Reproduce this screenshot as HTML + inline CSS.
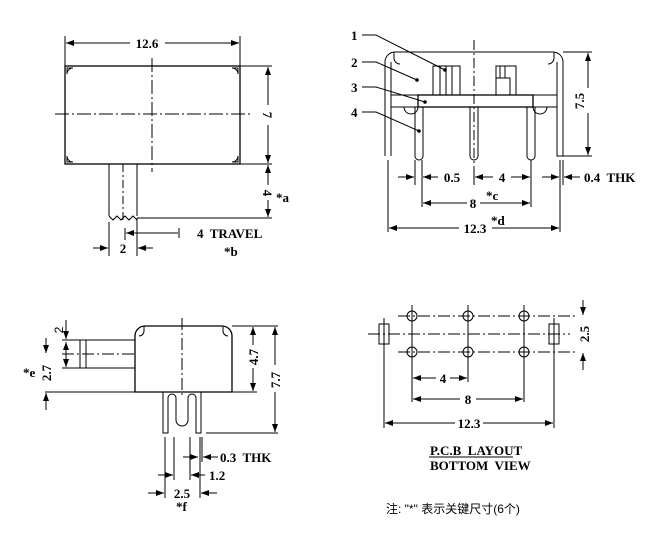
<!DOCTYPE html>
<html><head><meta charset="utf-8"><style>
html,body{margin:0;padding:0;background:#fff;}
svg{display:block;}
text{font-family:"Liberation Serif",serif;font-weight:bold;font-size:13px;fill:#000;white-space:pre;}
.s{font-family:"Liberation Sans",sans-serif;font-weight:normal;font-size:12px;}
</style></head><body>
<svg width="657" height="539" viewBox="0 0 657 539" xmlns="http://www.w3.org/2000/svg" xml:space="preserve">
<defs>
<marker id="a" markerWidth="8" markerHeight="6" refX="8" refY="3" orient="auto-start-reverse" markerUnits="userSpaceOnUse"><path d="M0,0 L8,3 L0,6 z" fill="#000"/></marker>
</defs>
<g stroke="#000" stroke-width="1" fill="none">
<line x1="65" y1="36" x2="65" y2="66"/><line x1="240" y1="36" x2="240" y2="66"/>
<line x1="66" y1="43" x2="130" y2="43" marker-start="url(#a)"/><line x1="165" y1="43" x2="239" y2="43" marker-end="url(#a)"/>
<rect x="65" y="66" width="175" height="98" stroke-width="1.3"/>
<line x1="240" y1="66" x2="272" y2="66"/><line x1="240" y1="164" x2="272" y2="164"/>
<path d="M67,68 h6 a6,6 0 0 0 -6,6z M238,68 h-6 a6,6 0 0 1 6,6z M67,162 h6 a6,6 0 0 1 -6,-6z M238,162 h-6 a6,6 0 0 0 6,-6z"/>
<line x1="55" y1="114" x2="250" y2="114" stroke-dasharray="14,3,2,3"/>
<line x1="152" y1="58" x2="152" y2="172" stroke-dasharray="14,3,2,3"/>
<line x1="268" y1="67" x2="268" y2="105" marker-start="url(#a)"/><line x1="268" y1="125" x2="268" y2="163" marker-end="url(#a)"/>
<line x1="268" y1="165" x2="268" y2="185" marker-start="url(#a)"/><line x1="268" y1="200" x2="268" y2="217" marker-end="url(#a)"/>
<line x1="109" y1="164" x2="109" y2="216"/><line x1="137" y1="164" x2="137" y2="216"/>
<line x1="123" y1="164" x2="123" y2="222" stroke-dasharray="8,3,2,3"/>
<path d="M109,216 l4,4 l4,-4 l4,4 l4,-4 l4,4 l4,-4 l4,4"/>
<line x1="137" y1="218" x2="272" y2="218"/>
<line x1="137" y1="218" x2="137" y2="256"/><line x1="109" y1="222" x2="109" y2="256"/>
<line x1="125" y1="228" x2="125" y2="240"/>
<line x1="126" y1="233" x2="178" y2="233" marker-start="url(#a)"/><line x1="179" y1="228" x2="179" y2="238"/>
<line x1="93" y1="248" x2="108" y2="248" marker-end="url(#a)"/><line x1="153" y1="248" x2="138" y2="248" marker-end="url(#a)"/>
<path d="M362,35 h14 L445,70"/><path d="M362,62 h14 L417,80"/><path d="M362,87 h14 L425,102"/><path d="M362,112 h14 L419,131"/>
<path d="M385,156 V62 a10,10 0 0 1 10,-10 H553 a10,10 0 0 1 10,10 V156 h-6 V62 M391,156 V62"/>
<path d="M394,52 v6 a6,6 0 0 0 6,6 M554,52 v6 a6,6 0 0 1 -6,6"/>
<line x1="563" y1="52" x2="592" y2="52"/><line x1="563" y1="156" x2="592" y2="156"/>
<line x1="391" y1="95" x2="557" y2="95"/><line x1="391" y1="107" x2="557" y2="107"/>
<rect x="418" y="95" width="115" height="12" stroke-width="1.3"/>
<path d="M404,107 a7,7 0 0 0 14,0 M533,107 a7,7 0 0 0 14,0"/>
<rect x="433" y="66" width="27" height="29"/><line x1="440" y1="66" x2="440" y2="95"/><line x1="446" y1="66" x2="446" y2="95"/><line x1="452" y1="66" x2="452" y2="95"/>
<rect x="496" y="66" width="20" height="29"/><rect x="496" y="78" width="14" height="17"/><line x1="500" y1="66" x2="500" y2="78"/><line x1="505" y1="66" x2="505" y2="78"/>
<path d="M415,107 V156 a4,4 0 0 0 8,0 V107 M470,107 V156 a4,4 0 0 0 8,0 V107 M527,107 V156 a4,4 0 0 0 8,0 V107"/>
<line x1="474" y1="40" x2="474" y2="170" stroke-dasharray="10,3,2,3"/>
<line x1="588" y1="53" x2="588" y2="88" marker-start="url(#a)"/><line x1="588" y1="113" x2="588" y2="155" marker-end="url(#a)"/>
<line x1="388" y1="160" x2="388" y2="232"/><line x1="560" y1="160" x2="560" y2="232"/><line x1="563" y1="160" x2="563" y2="185"/>
<line x1="415" y1="160" x2="415" y2="185"/><line x1="422" y1="160" x2="422" y2="207"/><line x1="531" y1="160" x2="531" y2="207"/><line x1="474" y1="170" x2="474" y2="185"/>
<line x1="398" y1="177" x2="414" y2="177" marker-end="url(#a)"/><line x1="438" y1="177" x2="423" y2="177" marker-end="url(#a)"/>
<line x1="475" y1="177" x2="493" y2="177" marker-start="url(#a)"/><line x1="511" y1="177" x2="530" y2="177" marker-end="url(#a)"/>
<line x1="542" y1="177" x2="559" y2="177" marker-end="url(#a)"/><line x1="580" y1="177" x2="564" y2="177" marker-end="url(#a)"/>
<line x1="423" y1="203" x2="467" y2="203" marker-start="url(#a)"/><line x1="480" y1="203" x2="530" y2="203" marker-end="url(#a)"/>
<line x1="389" y1="228" x2="459" y2="228" marker-start="url(#a)"/><line x1="492" y1="228" x2="559" y2="228" marker-end="url(#a)"/>
<path d="M135,392 V336 a10,10 0 0 1 10,-10 H222 a10,10 0 0 1 10,10 V392 Z" stroke-width="1.3"/>
<path d="M144,326 v5 a5,5 0 0 1 -5,5 M223,326 v5 a5,5 0 0 0 5,5"/>
<line x1="232" y1="326" x2="278" y2="326"/><line x1="232" y1="392" x2="257" y2="392"/><line x1="206" y1="433" x2="278" y2="433"/>
<rect x="80" y="340" width="55" height="28"/><line x1="86" y1="340" x2="86" y2="368"/>
<line x1="62" y1="354" x2="135" y2="354" stroke-dasharray="12,3,2,3"/>
<line x1="182" y1="318" x2="182" y2="395" stroke-dasharray="12,3,2,3"/>
<line x1="45" y1="392" x2="135" y2="392"/><line x1="62" y1="340" x2="80" y2="340"/><line x1="62" y1="368" x2="80" y2="368"/>
<path d="M163,392 V433 h5 V398 a4,4 0 0 1 8,0 V420 a6,6 0 0 0 12,0 V398 a4,4 0 0 1 8,0 V433 h5 V392"/>
<line x1="253" y1="327" x2="253" y2="345" marker-start="url(#a)"/><line x1="253" y1="368" x2="253" y2="391" marker-end="url(#a)"/>
<line x1="275" y1="327" x2="275" y2="365" marker-start="url(#a)"/><line x1="275" y1="392" x2="275" y2="432" marker-end="url(#a)"/>
<line x1="66" y1="320" x2="66" y2="339" marker-end="url(#a)"/><line x1="66" y1="342" x2="66" y2="367" marker-start="url(#a)" marker-end="url(#a)"/>
<line x1="46" y1="338" x2="46" y2="353" marker-end="url(#a)"/><line x1="46" y1="410" x2="46" y2="393" marker-end="url(#a)"/>
<line x1="165" y1="437" x2="165" y2="498"/><line x1="174" y1="437" x2="174" y2="480"/><line x1="190" y1="437" x2="190" y2="480"/><line x1="200" y1="437" x2="200" y2="498"/><line x1="202" y1="437" x2="202" y2="462"/>
<line x1="183" y1="457" x2="198" y2="457" marker-end="url(#a)"/><line x1="218" y1="457" x2="203" y2="457" marker-end="url(#a)"/>
<line x1="158" y1="475" x2="173" y2="475" marker-end="url(#a)"/><line x1="205" y1="475" x2="191" y2="475" marker-end="url(#a)"/>
<line x1="148" y1="493" x2="164" y2="493" marker-end="url(#a)"/><line x1="217" y1="493" x2="201" y2="493" marker-end="url(#a)"/>
<line x1="398" y1="316" x2="575" y2="316" stroke-dasharray="12,3,2,3"/>
<line x1="368" y1="334" x2="570" y2="334" stroke-dasharray="12,3,2,3"/>
<line x1="398" y1="352" x2="575" y2="352" stroke-dasharray="12,3,2,3"/>
<circle cx="412" cy="316" r="5"/><circle cx="468" cy="316" r="5"/><circle cx="524" cy="316" r="5"/>
<circle cx="412" cy="352" r="5"/><circle cx="468" cy="352" r="5"/><circle cx="524" cy="352" r="5"/>
<line x1="412" y1="305" x2="412" y2="402"/><line x1="468" y1="305" x2="468" y2="382"/><line x1="524" y1="305" x2="524" y2="402"/>
<rect x="379" y="324" width="10" height="20"/><rect x="549" y="324" width="10" height="20"/>
<line x1="384" y1="318" x2="384" y2="428"/><line x1="554" y1="318" x2="554" y2="428"/>
<line x1="583" y1="300" x2="583" y2="315" marker-end="url(#a)"/><line x1="583" y1="370" x2="583" y2="353" marker-end="url(#a)"/>
<line x1="413" y1="378" x2="436" y2="378" marker-start="url(#a)"/><line x1="450" y1="378" x2="467" y2="378" marker-end="url(#a)"/>
<line x1="413" y1="399" x2="460" y2="399" marker-start="url(#a)"/><line x1="476" y1="399" x2="523" y2="399" marker-end="url(#a)"/>
<line x1="385" y1="423" x2="455" y2="423" marker-start="url(#a)"/><line x1="483" y1="423" x2="553" y2="423" marker-end="url(#a)"/>
<line x1="429" y1="457" x2="513" y2="457"/>
</g>
<g fill="#000" stroke="none">
<circle cx="445" cy="70" r="1.8"/><circle cx="417" cy="80" r="1.8"/><circle cx="425" cy="102" r="1.8"/><circle cx="419" cy="131" r="1.8"/>
</g>
<text x="147" y="48" text-anchor="middle">12.6</text>
<text transform="translate(263,115) rotate(90)" text-anchor="middle">7</text>
<text transform="translate(263,193) rotate(90)" text-anchor="middle">4</text>
<text x="276" y="202" font-size="12">*a</text>
<text x="197" y="238">4  TRAVEL</text>
<text x="123" y="253" text-anchor="middle">2</text>
<text x="224" y="256" font-size="12">*b</text>
<text x="351" y="40">1</text><text x="351" y="67">2</text><text x="351" y="92">3</text><text x="351" y="117">4</text>
<text transform="translate(584,101) rotate(-90)" text-anchor="middle">7.5</text>
<text x="452" y="182" text-anchor="middle">0.5</text>
<text x="502" y="182" text-anchor="middle">4</text>
<text x="584" y="182">0.4  THK</text>
<text x="473" y="208" text-anchor="middle">8</text>
<text x="486" y="200" font-size="12">*c</text>
<text x="475" y="233" text-anchor="middle">12.3</text>
<text x="491" y="225" font-size="12">*d</text>
<text transform="translate(63,330) rotate(-90)" text-anchor="middle" class="s">2</text>
<text transform="translate(51,373) rotate(-90)" text-anchor="middle">2.7</text>
<text x="23" y="377" font-size="12">*e</text>
<text transform="translate(258,357) rotate(-90)" text-anchor="middle">4.7</text>
<text transform="translate(280,380) rotate(-90)" text-anchor="middle">7.7</text>
<text x="220" y="462">0.3  THK</text>
<text x="209" y="480">1.2</text>
<text x="182" y="498" text-anchor="middle">2.5</text>
<text x="176" y="511" font-size="12">*f</text>
<text transform="translate(589,334) rotate(-90)" text-anchor="middle">2.5</text>
<text x="443" y="383" text-anchor="middle">4</text>
<text x="468" y="404" text-anchor="middle">8</text>
<text x="469" y="428" text-anchor="middle">12.3</text>
<text x="430" y="455">P.C.B  LAYOUT</text>
<text x="430" y="470">BOTTOM  VIEW</text>
<text x="386" y="513" style="font-family:'Liberation Sans','Noto Sans CJK SC',sans-serif;font-weight:normal;font-size:12px">注: "*" 表示关键尺寸(6个)</text>
</svg>
</body></html>
